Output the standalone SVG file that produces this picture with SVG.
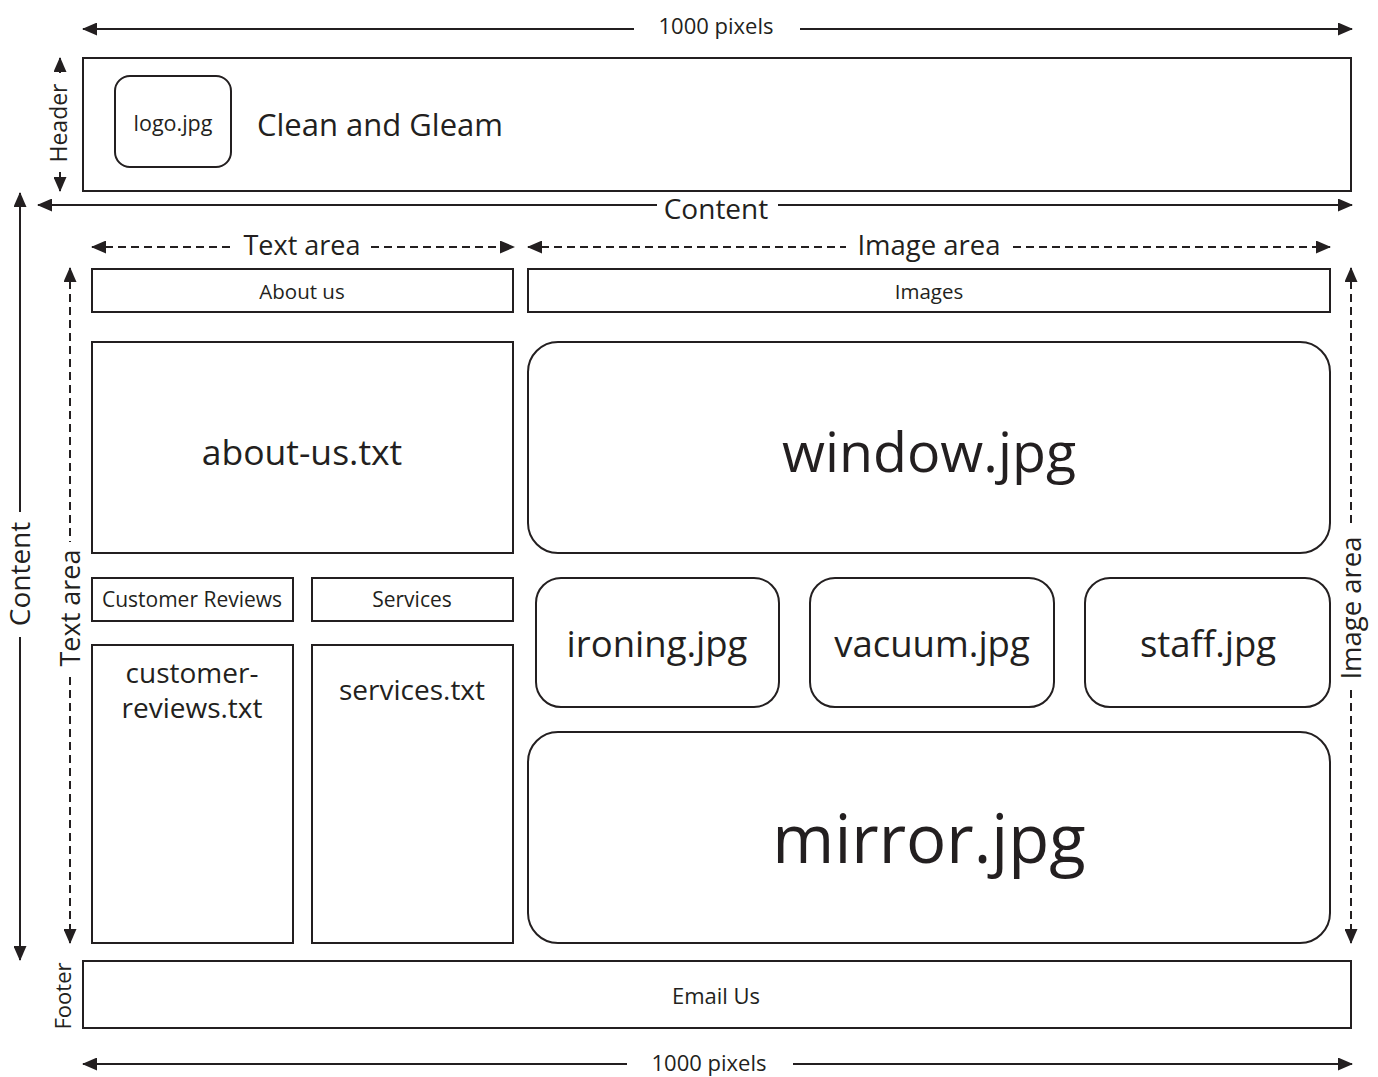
<svg xmlns="http://www.w3.org/2000/svg" width="1378" height="1077" viewBox="0 0 1378 1077">
<style>
text{font-family:"Open Sans","Noto Sans","Liberation Sans",sans-serif;fill:#231f20;text-anchor:middle}
.box{fill:#fff;stroke:#231f20;stroke-width:2}
.ln{fill:none;stroke:#231f20;stroke-width:2}
.ds{fill:none;stroke:#231f20;stroke-width:2;stroke-dasharray:8 5}
</style>
<defs>
<marker id="ah" markerUnits="userSpaceOnUse" markerWidth="15" markerHeight="13" refX="14" refY="6.5" orient="auto-start-reverse" viewBox="0 0 15 13">
<path d="M0,0 L15,6.5 L0,13 z" fill="#231f20"/>
</marker>
</defs>
<rect width="1378" height="1077" fill="#fff"/>

<g id="connectors">
<line class="ln" x1="83" y1="29" x2="634" y2="29" marker-start="url(#ah)"/>
<line class="ln" x1="800" y1="29" x2="1352" y2="29" marker-end="url(#ah)"/>
<line class="ln" x1="60" y1="58" x2="60" y2="73" marker-start="url(#ah)"/>
<line class="ln" x1="60" y1="172" x2="60" y2="191" marker-end="url(#ah)"/>
<line class="ln" x1="38" y1="205" x2="657" y2="205" marker-start="url(#ah)"/>
<line class="ln" x1="778" y1="205" x2="1352" y2="205" marker-end="url(#ah)"/>
<line class="ln" x1="20" y1="193" x2="20" y2="512" marker-start="url(#ah)"/>
<line class="ln" x1="20" y1="637" x2="20" y2="960" marker-end="url(#ah)"/>
<line class="ds" x1="92" y1="247" x2="233" y2="247" marker-start="url(#ah)"/>
<line class="ds" x1="371" y1="247" x2="514" y2="247" marker-end="url(#ah)"/>
<line class="ds" x1="528" y1="247" x2="846" y2="247" marker-start="url(#ah)"/>
<line class="ds" x1="1013" y1="247" x2="1330" y2="247" marker-end="url(#ah)"/>
<line class="ds" x1="70" y1="268" x2="70" y2="542" marker-start="url(#ah)"/>
<line class="ds" x1="70" y1="677" x2="70" y2="943" marker-end="url(#ah)"/>
<line class="ds" x1="1351" y1="268" x2="1351" y2="525" marker-start="url(#ah)"/>
<line class="ds" x1="1351" y1="690" x2="1351" y2="943" marker-end="url(#ah)"/>
<line class="ln" x1="83" y1="1064" x2="627" y2="1064" marker-start="url(#ah)"/>
<line class="ln" x1="793" y1="1064" x2="1352" y2="1064" marker-end="url(#ah)"/>
</g>

<g id="dimension-labels">
<text x="716" y="34" font-size="22">1000 pixels</text>
<text x="709" y="1071" font-size="22">1000 pixels</text>
<text x="716" y="219" font-size="28">Content</text>
<text x="302" y="255" font-size="27">Text area</text>
<text x="929" y="255" font-size="27.5">Image area</text>
<text transform="translate(67,123) rotate(-90)" font-size="23">Header</text>
<text transform="translate(30,574) rotate(-90)" font-size="28">Content</text>
<text transform="translate(80,608) rotate(-90)" font-size="27">Text area</text>
<text transform="translate(1361,608) rotate(-90)" font-size="27.5">Image area</text>
<text transform="translate(71,996) rotate(-90)" font-size="22">Footer</text>
</g>

<g id="header">
<rect class="box" x="83" y="58" width="1268" height="133"/>
</g>
<g id="logo">
<rect class="box" x="115" y="76" width="116" height="91" rx="15"/>
<text x="173" y="131" font-size="21.5">logo.jpg</text>
</g>
<g id="site-title">
<text x="257" y="136" font-size="31" style="text-anchor:start">Clean and Gleam</text>
</g>

<g id="about-us-heading">
<rect class="box" x="92" y="269" width="421" height="43"/>
<text x="302" y="299" font-size="20.5">About us</text>
</g>
<g id="images-heading">
<rect class="box" x="528" y="269" width="802" height="43"/>
<text x="929" y="299" font-size="20.5">Images</text>
</g>
<g id="about-us-txt">
<rect class="box" x="92" y="342" width="421" height="211"/>
<text x="302" y="465" font-size="35.5">about-us.txt</text>
</g>
<g id="window-jpg">
<rect class="box" x="528" y="342" width="802" height="211" rx="30"/>
<text x="929" y="472" font-size="55.5">window.jpg</text>
</g>
<g id="customer-reviews-heading">
<rect class="box" x="92" y="578" width="201" height="43"/>
<text x="192" y="607" font-size="21">Customer Reviews</text>
</g>
<g id="services-heading">
<rect class="box" x="312" y="578" width="201" height="43"/>
<text x="412" y="607" font-size="21">Services</text>
</g>
<g id="customer-reviews-txt">
<rect class="box" x="92" y="645" width="201" height="298"/>
<text x="192" y="683" font-size="28">customer-</text>
<text x="192" y="718" font-size="28">reviews.txt</text>
</g>
<g id="services-txt">
<rect class="box" x="312" y="645" width="201" height="298"/>
<text x="412" y="700" font-size="28">services.txt</text>
</g>
<g id="ironing-jpg">
<rect class="box" x="536" y="578" width="243" height="129" rx="25"/>
<text x="657" y="657" font-size="36.5">ironing.jpg</text>
</g>
<g id="vacuum-jpg">
<rect class="box" x="810" y="578" width="244" height="129" rx="25"/>
<text x="932" y="657" font-size="36.5">vacuum.jpg</text>
</g>
<g id="staff-jpg">
<rect class="box" x="1085" y="578" width="245" height="129" rx="25"/>
<text x="1208" y="657" font-size="36.5">staff.jpg</text>
</g>
<g id="mirror-jpg">
<rect class="box" x="528" y="732" width="802" height="211" rx="30"/>
<text x="929" y="863" font-size="67">mirror.jpg</text>
</g>
<g id="footer">
<rect class="box" x="83" y="961" width="1268" height="67"/>
<text x="716" y="1004" font-size="22">Email Us</text>
</g>
</svg>
